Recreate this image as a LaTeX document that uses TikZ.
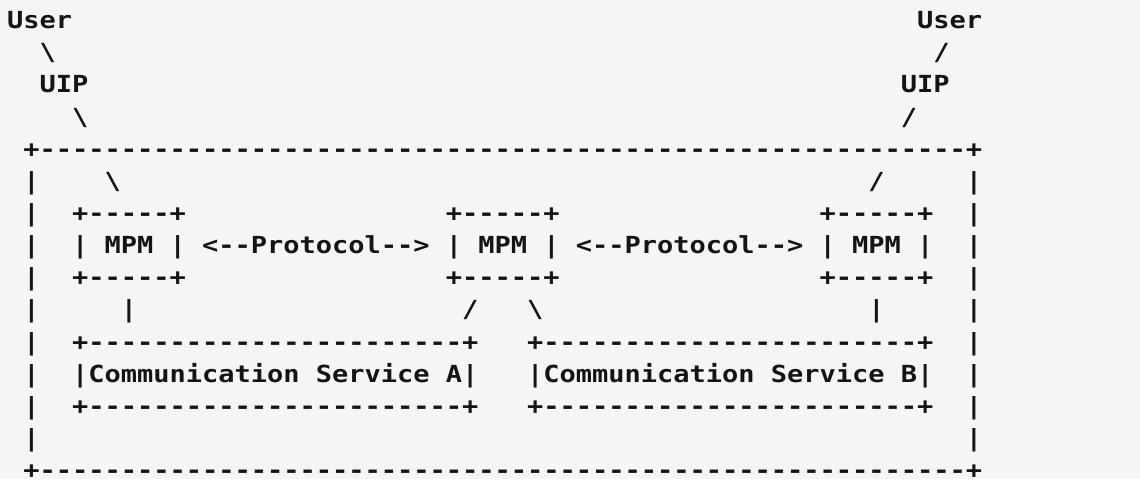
\documentclass[tikz,border=0pt]{standalone}
\usepackage{fontspec}
\setmonofont{DejaVu Sans Mono}[FakeStretch=1.149]
\usepackage{tikz}

\begin{document}
\begin{tikzpicture}[x=8.125pt, y=-16.075pt]
\useasboundingbox[fill=black!4] (-1.9077,-0.889) rectangle (68.246,14.01);
\begin{scope}
	\tikzstyle{every node}=[inner sep=0pt, anchor=base west, text=black!92, font=\ttfamily\bfseries\fontsize{11.75}{12}\selectfont]
	% users and their UIPs
	\node (userL) at (-1.5,0) {User};
	\node (userR) at (54.5,0) {User};
	\node (ul1) at (0.5,1) {\textbackslash};
	\node (ur1) at (55.5,1) {/};
	\node (uipL) at (0.5,2) {UIP};
	\node (uipR) at (53.5,2) {UIP};
	\node (ul2) at (2.5,3) {\textbackslash};
	\node (ur2) at (53.5,3) {/};

	% outer box
	\node (tl) at (-0.5,4) {+};
	\node (tr) at (57.5,4) {+};
	\node (bl) at (-0.5,14) {+};
	\node (br) at (57.5,14) {+};
	\foreach \c in {1,...,57} {
		\node (top\c) at (\c-0.5,4) {-};
		\node (bot\c) at (\c-0.5,14) {-};
	}
	\foreach \r in {5,...,13} {
		\node (left\r) at (-0.5,\r) {|};
		\node (right\r) at (57.5,\r) {|};
	}
	\node (ul3) at (4.5,5) {\textbackslash};
	\node (ur3) at (51.5,5) {/};

	% MPMs
	\node (mpm1t) at (2.5,6) {+-----+};
	\node (mpm1) at (2.5,7) {| MPM |};
	\node (mpm1b) at (2.5,8) {+-----+};
	\node (mpm2t) at (25.5,6) {+-----+};
	\node (mpm2) at (25.5,7) {| MPM |};
	\node (mpm2b) at (25.5,8) {+-----+};
	\node (mpm3t) at (48.5,6) {+-----+};
	\node (mpm3) at (48.5,7) {| MPM |};
	\node (mpm3b) at (48.5,8) {+-----+};
	\node (prot1) at (10.5,7) {<--Protocol-->};
	\node (prot2) at (33.5,7) {<--Protocol-->};

	\node (m1down) at (5.5,9) {|};
	\node (m2left) at (26.5,9) {/};
	\node (m2right) at (30.5,9) {\textbackslash};
	\node (m3down) at (51.5,9) {|};

	% communication services
	\node (csAt) at (2.5,10) {+-----------------------+};
	\node (csA) at (2.5,11) {|Communication Service A|};
	\node (csAb) at (2.5,12) {+-----------------------+};
	\node (csBt) at (30.5,10) {+-----------------------+};
	\node (csB) at (30.5,11) {|Communication Service B|};
	\node (csBb) at (30.5,12) {+-----------------------+};
\end{scope}
\end{tikzpicture}
\end{document}
